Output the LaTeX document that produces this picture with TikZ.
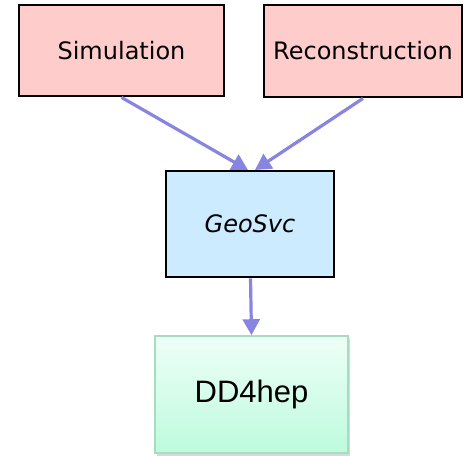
\documentclass[tikz,border=0pt]{standalone}
\usepackage{fontspec}
\setmainfont{DejaVu Sans}
\newfontfamily\helv{Liberation Sans}
\usetikzlibrary{arrows.meta,shadows}
\definecolor{boxpink}{HTML}{FFCCCC}
\definecolor{boxblue}{HTML}{CCEBFF}
\definecolor{arrowblue}{HTML}{8885E0}
\definecolor{mintTop}{HTML}{EEFFF8}
\definecolor{mintBot}{HTML}{BDFBDD}
\definecolor{mintEdge}{HTML}{A8DCC0}
\tikzset{
  pinkbox/.style={draw=black, line width=2.8pt, fill=boxpink, inner sep=0pt, font=\fontsize{24}{27}\selectfont},
  bluebox/.style={draw=black, line width=2.8pt, fill=boxblue, inner sep=0pt, font=\fontsize{24}{27}\selectfont\itshape},
  greenbox/.style={draw=mintEdge, line width=1.6pt, top color=mintTop, bottom color=mintBot, inner sep=0pt,
     drop shadow={shadow xshift=1.5pt, shadow yshift=-2.5pt, opacity=0.3}, font=\helv\fontsize{31}{34}\selectfont},
  link/.style={draw=arrowblue, line width=3.2pt, -{Triangle[length=16pt,width=17pt]}}
}
\begin{document}
\begin{tikzpicture}[x=1pt,y=-1pt]
\useasboundingbox (0,0) rectangle (466,456);
\node[pinkbox, minimum width=205pt, minimum height=91pt] (sim) at (121.5,50.5) {Simulation};
\node[pinkbox, minimum width=198pt, minimum height=92pt] (rec) at (363,51) {Reconstruction};
\node[bluebox, minimum width=168pt, minimum height=106pt] (geo) at (250,224) {GeoSvc};
\node[greenbox, minimum width=193pt, minimum height=117pt] (dd) at (251.5,394.5) {DD4hep};
\coordinate (simEnd) at (248,170);
\coordinate (recEnd) at (255,170);
\draw[link] (sim.south) -- (simEnd);
\draw[link] (rec.south) -- (recEnd);
\draw[link] ([xshift=0.5pt]geo.south) -- (dd.north);
\end{tikzpicture}
\end{document}
